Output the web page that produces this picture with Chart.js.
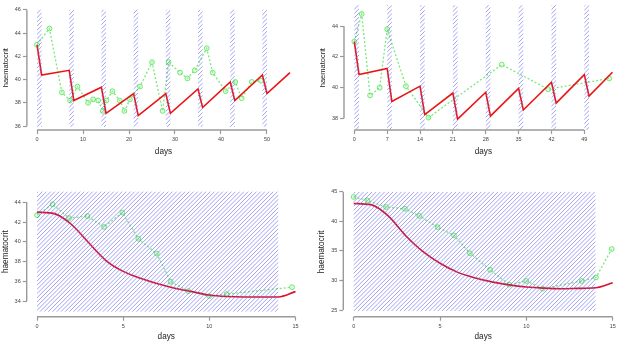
<!DOCTYPE html>
<html><head><meta charset="utf-8">
<script src="https://cdn.jsdelivr.net/npm/chart.js@4.4.1/dist/chart.umd.min.js"></script>
<style>
html,body{margin:0;padding:0;background:#fff;overflow:hidden;width:617px;height:343px;position:relative;}
canvas{position:absolute;}
</style></head><body>
<canvas id="c1" width="308" height="171" style="left:0px;top:0px"></canvas>
<canvas id="c2" width="320" height="171" style="left:309px;top:0px"></canvas>
<canvas id="c3" width="308" height="172" style="left:0px;top:171px"></canvas>
<canvas id="c4" width="320" height="172" style="left:309px;top:171px"></canvas>
<script>
// ---------- Panel 1 (top-left) ----------
const p1ObsDays = [0, 2.7, 5.4, 7.2, 8.8, 11.1, 12.2, 13.3, 14.3, 15.1, 16.4, 18.0, 19.0, 20.2, 22.4, 25.0, 27.3, 28.6, 31.1, 32.7, 34.3, 36.9, 38.2, 41.0, 43.1, 44.5, 46.7, 48.7];
const p1ObsHct  = [43.0, 44.4, 38.9, 38.2, 39.4, 38.0, 38.3, 38.2, 37.3, 38.2, 39.0, 38.2, 37.3, 38.3, 39.4, 41.5, 37.3, 41.5, 40.6, 40.1, 40.8, 42.7, 40.6, 39.0, 39.8, 38.4, 39.8, 39.9];
const p1ModelDays = [0, 1, 7, 8, 14, 15, 21, 22, 28, 29, 35, 36, 42, 43, 49, 50, 55];
const p1ModelHct  = [43.0, 40.4, 40.8, 38.2, 39.35, 37.1, 38.8, 36.9, 38.8, 37.1, 39.2, 37.6, 39.8, 38.2, 40.4, 38.8, 40.6];
const p1BandStart = [0, 7, 14, 21, 28, 35, 42, 49];
const p1BandEnd   = [1, 8, 15, 22, 29, 36, 43, 50];
const p1BandLow = 35.92, p1BandHigh = 46.03;
const p1XTicks = [0, 10, 20, 30, 40, 50];
const p1YTicks = [36, 38, 40, 42, 44, 46];

// ---------- Panel 2 (top-right) ----------
const p2ObsDays = [0, 1.57, 3.35, 5.4, 7.0, 11.0, 15.8, 31.4, 41.3, 54.3];
const p2ObsHct  = [43.0, 44.8, 39.5, 40.0, 43.8, 40.1, 38.05, 41.5, 39.9, 40.6];
const p2ModelDays = [0, 1, 7, 8, 14, 15, 21, 22, 28, 29, 35, 36, 42, 43, 49, 50, 55];
const p2ModelHct  = [43.0, 40.85, 41.25, 39.1, 40.1, 38.25, 39.65, 37.95, 39.7, 38.15, 39.95, 38.55, 40.35, 39.0, 40.85, 39.45, 41.0];
const p2BandStart = [0, 7, 14, 21, 28, 35, 42, 49];
const p2BandEnd   = [1, 8, 15, 22, 29, 36, 43, 50];
const p2BandLow = 37.0, p2BandHigh = 45.6;
const p2XTicks = [0, 7, 14, 21, 28, 35, 42, 49];
const p2YTicks = [38, 40, 42, 44];

// ---------- Panel 3 (bottom-left) ----------
const p3ObsDays = [0, 0.9, 1.86, 2.92, 3.89, 4.95, 5.88, 6.95, 7.76, 8.78, 10.0, 11.0, 14.8];
const p3ObsHct  = [42.7, 43.8, 42.4, 42.6, 41.5, 42.95, 40.3, 38.8, 35.95, 35.0, 34.5, 34.7, 35.4];
const p3ModelDays = [0, 1, 2, 3, 4, 5, 6, 7, 8, 9, 10, 11, 12, 13, 14, 15];
const p3ModelHct  = [43.0, 42.85, 41.75, 39.9, 38.1, 37.0, 36.3, 35.75, 35.3, 34.95, 34.6, 34.45, 34.4, 34.4, 34.4, 34.95];
const p3BandStart = [0];
const p3BandEnd   = [14];
const p3BandLow = 32.9, p3BandHigh = 45.1;
const p3XTicks = [0, 5, 10, 15];
const p3YTicks = [34, 36, 38, 40, 42, 44];

// ---------- Panel 4 (bottom-right) ----------
const p4ObsDays = [0, 0.79, 1.87, 2.97, 3.8, 4.86, 5.81, 6.73, 7.9, 9.0, 10.0, 10.94, 13.2, 14.03, 14.94];
const p4ObsHct  = [44.1, 43.5, 42.4, 42.1, 40.9, 39.0, 37.6, 34.6, 31.8, 29.3, 29.9, 28.6, 29.9, 30.5, 35.3];
const p4ModelDays = [0, 1, 2, 3, 4, 5, 6, 7, 8, 9, 10, 11, 12, 13, 14, 15];
const p4ModelHct  = [43.0, 42.8, 40.9, 37.6, 34.9, 32.9, 31.4, 30.45, 29.75, 29.25, 28.9, 28.7, 28.6, 28.65, 28.75, 29.6];
const p4BandStart = [0];
const p4BandEnd   = [14];
const p4BandLow = 24.8, p4BandHigh = 45.0;
const p4XTicks = [0, 5, 10, 15];
const p4YTicks = [25, 30, 35, 40, 45];

const xTitle = 'days';
const yTitle = 'haematocrit';

Chart.defaults.font.family = "'Liberation Sans', Arial, sans-serif";
Chart.defaults.color = '#333';

const pts = (xs, ys) => xs.map((x, i) => ({x, y: ys[i]}));

const hatchPlugin = {
  id: 'hatch',
  afterDatasetsDraw(chart, args, o) {
    const {ctx, chartArea: a, scales: {x, y}} = chart;
    ctx.save();
    ctx.beginPath(); ctx.rect(a.left, a.top, a.right - a.left, a.bottom - a.top); ctx.clip();
    ctx.strokeStyle = o.color; ctx.lineWidth = o.lineWidth;
    for (let i = 0; i < o.start.length; i++) {
      const x0 = x.getPixelForValue(o.start[i]), x1 = x.getPixelForValue(o.end[i]);
      const yT = y.getPixelForValue(o.high), yB = y.getPixelForValue(o.low);
      ctx.save();
      ctx.beginPath(); ctx.rect(x0, yT, x1 - x0, yB - yT); ctx.clip();
      ctx.beginPath();
      const s = o.spacing;
      for (let c = Math.floor((x0 + yT) / s) * s; c <= x1 + yB + s; c += s) {
        ctx.moveTo(c - yB, yB); ctx.lineTo(c - yT, yT);
      }
      ctx.stroke();
      ctx.restore();
    }
    ctx.restore();
  }
};

const rAxisPlugin = {
  id: 'raxis',
  afterDraw(chart, args, o) {
    const {ctx, chartArea: a, scales: {x, y}} = chart;
    ctx.save();
    ctx.strokeStyle = o.color; ctx.lineWidth = o.lineWidth;
    ctx.beginPath();
    ctx.moveTo(x.getPixelForValue(o.xTicks[0]), a.bottom);
    ctx.lineTo(x.getPixelForValue(o.xTicks[o.xTicks.length - 1]), a.bottom);
    ctx.moveTo(a.left, y.getPixelForValue(o.yTicks[0]));
    ctx.lineTo(a.left, y.getPixelForValue(o.yTicks[o.yTicks.length - 1]));
    ctx.stroke();
    ctx.restore();
  }
};

function makePanel(id, d, L) {
  new Chart(document.getElementById(id), {
    type: 'scatter',
    data: {
      datasets: [
        {
          data: pts(d.obsX, d.obsY), showLine: true,
          borderColor: 'rgba(100,228,100,0.85)', borderWidth: 1.3, borderDash: [2, 2],
          pointRadius: 2.4, pointBorderWidth: 1, pointBorderColor: 'rgba(100,228,100,0.9)',
          pointBackgroundColor: 'rgba(180,255,180,0.35)', order: 2
        },
        {
          data: pts(d.modX, d.modY), showLine: true,
          borderColor: L.red, borderWidth: 1.6, pointRadius: 0,
          cubicInterpolationMode: d.smooth ? 'monotone' : 'default', tension: 0, order: 1
        }
      ]
    },
    options: {
      responsive: false, animation: false, events: [],
      layout: { autoPadding: false, padding: { left: 0, top: L.top, right: L.right, bottom: 0 } },
      plugins: {
        legend: { display: false }, tooltip: { enabled: false },
        hatch: { start: d.bandStart, end: d.bandEnd, low: d.bandLow, high: d.bandHigh,
                 color: 'rgba(105,105,232,0.62)', lineWidth: 1, spacing: 4.2 },
        raxis: { xTicks: d.xTicks, yTicks: d.yTicks, color: '#9a9a9a', lineWidth: 1.4 }
      },
      scales: {
        x: {
          type: 'linear', min: d.xMin, max: d.xMax,
          afterBuildTicks: s => { s.ticks = d.xTicks.map(v => ({value: v})); },
          afterFit: s => { s.height = L.xH; },
          ticks: { font: { size: 5.5 }, color: '#444', padding: 2, maxRotation: 0, autoSkip: false },
          grid: { display: true, drawOnChartArea: false, drawTicks: true, tickLength: 4, tickColor: '#9a9a9a', tickWidth: 1.2 },
          border: { display: false },
          title: { display: true, text: xTitle, font: { size: 8.2 }, color: '#222', padding: { top: 0, bottom: L.xTitlePad } }
        },
        y: {
          type: 'linear', min: d.yMin, max: d.yMax,
          afterBuildTicks: s => { s.ticks = d.yTicks.map(v => ({value: v})); },
          afterFit: s => { s.width = L.left; },
          ticks: { font: { size: 5.5 }, color: '#444', padding: 2 },
          grid: { display: true, drawOnChartArea: false, drawTicks: true, tickLength: 4, tickColor: '#9a9a9a', tickWidth: 1.2 },
          border: { display: false },
          title: { display: true, text: yTitle, font: { size: L.yFont }, color: '#222', padding: { top: L.yTitlePad, bottom: 0 } }
        }
      }
    },
    plugins: [hatchPlugin, rAxisPlugin]
  });
}

makePanel('c1', {
  obsX: p1ObsDays, obsY: p1ObsHct, modX: p1ModelDays, modY: p1ModelHct, smooth: false,
  bandStart: p1BandStart, bandEnd: p1BandEnd, bandLow: p1BandLow, bandHigh: p1BandHigh,
  xTicks: p1XTicks, yTicks: p1YTicks, xMin: -2.2, xMax: 57.2, yMin: 35.66, yMax: 46.4
}, { left: 26.9, right: 7.9, top: 2.2, xH: 41, xTitlePad: 14, yFont: 7.5, yTitlePad: 1, red: '#ea1414' });

makePanel('c2', {
  obsX: p2ObsDays, obsY: p2ObsHct, modX: p2ModelDays, modY: p2ModelHct, smooth: false,
  bandStart: p2BandStart, bandEnd: p2BandEnd, bandLow: p2BandLow, bandHigh: p2BandHigh,
  xTicks: p2XTicks, yTicks: p2YTicks, xMin: -2.2, xMax: 57.2, yMin: 37.245, yMax: 45.36
}, { left: 35.0, right: 6.2, top: 1, xH: 41, xTitlePad: 14, yFont: 7.5, yTitlePad: 9, red: '#ea1414' });

makePanel('c3', {
  obsX: p3ObsDays, obsY: p3ObsHct, modX: p3ModelDays, modY: p3ModelHct, smooth: true,
  bandStart: p3BandStart, bandEnd: p3BandEnd, bandLow: p3BandLow, bandHigh: p3BandHigh,
  xTicks: p3XTicks, yTicks: p3YTicks, xMin: -0.6, xMax: 15.6, yMin: 32.41, yMax: 45.6
}, { left: 26.7, right: 2.2, top: 15.5, xH: 26.3, xTitlePad: 1.4, yFont: 8.2, yTitlePad: 0.6, red: '#d8122e' });

makePanel('c4', {
  obsX: p4ObsDays, obsY: p4ObsHct, modX: p4ModelDays, modY: p4ModelHct, smooth: true,
  bandStart: p4BandStart, bandEnd: p4BandEnd, bandLow: p4BandLow, bandHigh: p4BandHigh,
  xTicks: p4XTicks, yTicks: p4YTicks, xMin: -0.6, xMax: 15.6, yMin: 23.87, yMax: 45.8
}, { left: 34.3, right: 5.9, top: 15.9, xH: 26.3, xTitlePad: 1.4, yFont: 8.2, yTitlePad: 7.6, red: '#d8122e' });
</script>
</body></html>
